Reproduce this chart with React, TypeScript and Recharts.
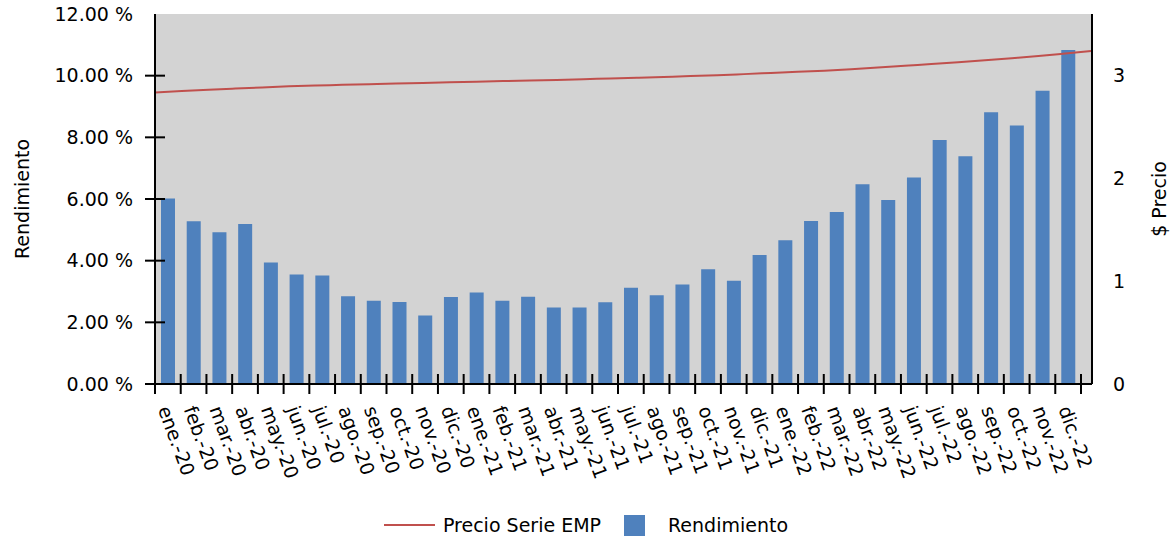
import { ComposedChart, Bar, Line, XAxis, YAxis, CartesianGrid, Label } from 'recharts';

const months = [
  'ene.-20', 'feb.-20', 'mar.-20', 'abr.-20', 'may.-20', 'jun.-20',
  'jul.-20', 'ago.-20', 'sep.-20', 'oct.-20', 'nov.-20', 'dic.-20',
  'ene.-21', 'feb.-21', 'mar.-21', 'abr.-21', 'may.-21', 'jun.-21',
  'jul.-21', 'ago.-21', 'sep.-21', 'oct.-21', 'nov.-21', 'dic.-21',
  'ene.-22', 'feb.-22', 'mar.-22', 'abr.-22', 'may.-22', 'jun.-22',
  'jul.-22', 'ago.-22', 'sep.-22', 'oct.-22', 'nov.-22', 'dic.-22',
];

// Rendimiento (%)
const rendimiento = [
  6.02, 5.28, 4.92, 5.19, 3.94, 3.55, 3.52, 2.85, 2.70, 2.66, 2.22, 2.82,
  2.97, 2.70, 2.83, 2.48, 2.48, 2.65, 3.12, 2.88, 3.23, 3.72, 3.35, 4.18,
  4.66, 5.29, 5.58, 6.48, 5.97, 6.70, 7.91, 7.39, 8.81, 8.38, 9.51, 10.83,
];

// Precio Serie EMP ($)
const precio = [
  2.836, 2.850, 2.863, 2.875, 2.886, 2.896, 2.904, 2.911, 2.917, 2.923, 2.929, 2.935,
  2.941, 2.947, 2.953, 2.959, 2.966, 2.973, 2.980, 2.988, 2.996, 3.005, 3.015, 3.026,
  3.037, 3.049, 3.063, 3.079, 3.096, 3.113, 3.131, 3.150, 3.170, 3.191, 3.215, 3.240,
];

const pctTicks = [0, 2, 4, 6, 8, 10, 12];
const precioTicks = [0, 1, 2, 3];

const data = months.map((m, i) => ({ m, rendimiento: rendimiento[i], precio: precio[i] }));

const FONT = '"DejaVu Sans", Verdana, sans-serif';
const BAR_COLOR = '#4f81bd';
const LINE_COLOR = '#c0504d';

const LeftTick = (props: any) => {
  const { x, y, payload } = props;
  return (
    <g>
      {payload.value !== 12 && (
        <line x1={x - 10} x2={x + 10} y1={y} y2={y} stroke="#000" strokeWidth={2} />
      )}
      <text x={x - 22} y={y} dy="0.35em" textAnchor="end" fontSize={19} fontFamily={FONT} fill="#000">
        {`${Number(payload.value).toFixed(2)} %`}
      </text>
    </g>
  );
};

const BottomTick = (props: any) => {
  const { x, y, payload } = props;
  const half = payload.offset || 12.86;
  const last = payload.value === months[months.length - 1];
  const ax = x - 10;
  const ay = y + 25;
  return (
    <g>
      <line x1={x - half} x2={x - half} y1={y - 10} y2={y + 10} stroke="#000" strokeWidth={2} />
      {last && <line x1={x + half} x2={x + half} y1={y - 10} y2={y + 10} stroke="#000" strokeWidth={2} />}
      <text
        x={ax}
        y={ay}
        transform={`rotate(70 ${ax} ${ay})`}
        textAnchor="start"
        fontSize={19}
        fontFamily={FONT}
        fill="#000"
      >
        {payload.value}
      </text>
    </g>
  );
};

export default function App() {
  return (
    <div style={{ position: 'absolute', left: 0, top: 0, width: 1172, height: 541, fontFamily: FONT, background: '#fff' }}>
      <ComposedChart width={1172} height={541} data={data} margin={{ top: 14, right: 0, bottom: 0, left: 0 }}>
        <CartesianGrid xAxisId="bar" yAxisId="left" fill="#d3d3d3" stroke="none" horizontal={false} vertical={false} />
        <XAxis
          xAxisId="bar"
          dataKey="m"
          interval={0}
          height={157}
          padding={{ left: 0, right: 11 }}
          axisLine={{ stroke: '#000', strokeWidth: 2 }}
          tickLine={false}
          tickSize={0}
          tickMargin={0}
          tick={<BottomTick />}
        />
        <XAxis xAxisId="line" dataKey="m" scale="point" hide padding={{ left: 0, right: 0 }} />
        <YAxis
          yAxisId="left"
          width={155}
          domain={[0, 12]}
          ticks={pctTicks}
          interval={0}
          axisLine={{ stroke: '#000', strokeWidth: 2 }}
          tickLine={false}
          tickSize={0}
          tickMargin={0}
          tick={<LeftTick />}
        >
          <Label
            value="Rendimiento"
            angle={-90}
            position="insideLeft"
            offset={22}
            style={{ textAnchor: 'middle', fontSize: 19, fontFamily: FONT, fill: '#000' }}
          />
        </YAxis>
        <YAxis
          yAxisId="right"
          orientation="right"
          width={80}
          domain={[0, 3.6]}
          ticks={precioTicks}
          interval={0}
          axisLine={{ stroke: '#000', strokeWidth: 2 }}
          tickLine={false}
          tickSize={0}
          tickMargin={21}
          tick={{ fontSize: 19, fontFamily: FONT, fill: '#000', textAnchor: 'start' }}
        >
          <Label
            value="$ Precio"
            angle={-90}
            position="insideRight"
            offset={13}
            style={{ textAnchor: 'middle', fontSize: 19, fontFamily: FONT, fill: '#000' }}
          />
        </YAxis>
        <Bar
          xAxisId="bar"
          yAxisId="left"
          dataKey="rendimiento"
          name="Rendimiento"
          fill={BAR_COLOR}
          barSize={14}
          isAnimationActive={false}
        />
        <Line
          xAxisId="line"
          yAxisId="right"
          dataKey="precio"
          name="Precio Serie EMP"
          type="monotone"
          stroke={LINE_COLOR}
          strokeWidth={2}
          dot={false}
          activeDot={false}
          isAnimationActive={false}
        />
      </ComposedChart>
      <div
        style={{
          position: 'absolute',
          left: 0,
          top: 510,
          width: 1172,
          height: 30,
          display: 'flex',
          justifyContent: 'center',
          alignItems: 'center',
          fontSize: 19,
          color: '#000',
        }}
      >
        <span style={{ display: 'inline-block', width: 51, height: 2, background: LINE_COLOR, marginRight: 8 }} />
        <span style={{ marginRight: 23 }}>Precio Serie EMP</span>
        <span style={{ display: 'inline-block', width: 21, height: 21, background: BAR_COLOR, marginRight: 23 }} />
        <span>Rendimiento</span>
      </div>
    </div>
  );
}
